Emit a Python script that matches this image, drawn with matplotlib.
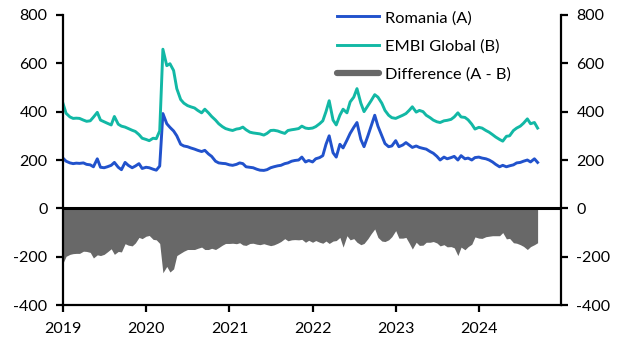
import matplotlib
matplotlib.use('Agg')
import matplotlib.pyplot as plt
import matplotlib.dates as mdates
import numpy as np
import pandas as pd

# semi-monthly observations (1st and 15th), Jan 2019 - Sep 2024, bp
dates = pd.date_range('2019-01-01', '2024-09-15', freq='SMS')

romania = [
    # 2019
    208, 195, 188, 185, 187, 186, 188, 182, 180, 172, 205, 170,
    168, 172, 178, 190, 170, 160, 190, 178, 168, 175, 185, 165,
    # 2020
    170, 168, 162, 158, 175, 392, 350, 335, 320, 300, 265, 258,
    255, 250, 245, 240, 235, 240, 225, 215, 195, 188, 186, 185,
    # 2021
    180, 178, 182, 188, 185, 172, 170, 168, 162, 158, 157, 160,
    168, 172, 176, 178, 185, 188, 195, 198, 200, 212, 192, 198,
    # 2022
    192, 205, 210, 218, 265, 300, 230, 212, 265, 250, 282, 310,
    335, 355, 285, 255, 300, 340, 385, 340, 300, 268, 255, 258,
    # 2023
    280, 255, 262, 272, 262, 252, 258, 252, 248, 245, 235, 228,
    215, 200, 212, 205, 210, 215, 200, 218, 205, 208, 200, 210,
    # 2024
    212, 208, 205, 200, 192, 182, 172, 178, 172, 176, 180, 188,
    190, 195, 200, 192, 205, 190,
]

embi = [
    # 2019
    435, 393, 378, 372, 373, 372, 365, 360, 362, 377, 397, 365,
    358, 352, 345, 380, 348, 340, 336, 330, 323, 318, 305, 290,
    # 2020
    285, 280, 290, 288, 320, 658, 590, 598, 570, 495, 450, 435,
    425, 420, 415, 405, 395, 410, 395, 380, 365, 350, 338, 330,
    # 2021
    325, 322, 328, 330, 336, 325, 315, 312, 310, 308, 303, 310,
    322, 323, 320, 315, 310, 322, 325, 327, 330, 340, 332, 330,
    # 2022
    332, 338, 350, 362, 400, 445, 365, 345, 385, 410, 395, 440,
    460, 495, 435, 400, 425, 445, 470, 460, 435, 405, 385, 375,
    # 2023
    372, 378, 385, 392, 405, 420, 398, 405, 400, 385, 375, 365,
    358, 355, 362, 364, 368, 378, 395, 378, 376, 366, 348, 328,
    # 2024
    335, 332, 322, 315, 305, 295, 285, 278, 298, 300, 322, 332,
    340, 352, 370, 350, 355, 332,
]

yticks = [-400, -200, 0, 200, 400, 600, 800]
years = [2019, 2020, 2021, 2022, 2023, 2024]

df = pd.DataFrame({'romania': romania, 'embi': embi}, index=dates)
df['diff'] = df['romania'] - df['embi']

plt.rcParams['font.family'] = ['Lato', 'DejaVu Sans']
plt.rcParams['font.size'] = 11.5
plt.rcParams['axes.unicode_minus'] = False

fig = plt.figure(figsize=(6.29, 3.54), dpi=100)
ax = fig.add_axes([0.100, 0.138, 0.792, 0.820])

blue = '#2152CC'
teal = '#12B8A5'
grey = '#686868'

ax.fill_between(df.index, 0, df['diff'], color=grey, linewidth=0)
ax.plot(df.index, df['romania'], color=blue, lw=2.1, label='Romania (A)')
ax.plot(df.index, df['embi'], color=teal, lw=2.1, label='EMBI Global (B)')
ax.plot([], [], color=grey, lw=4.5, solid_capstyle='round', label='Difference (A - B)')
ax.axhline(0, color='black', lw=2.2, zorder=3)

ax.set_ylim(-400, 800)
ax.set_yticks(yticks)
ax.set_xlim(pd.Timestamp('2019-01-01'), pd.Timestamp('2024-12-27'))
ax.set_xticks([pd.Timestamp(f'{y}-01-01') for y in years])
ax.xaxis.set_major_formatter(mdates.DateFormatter('%Y'))

ax2 = ax.twinx()
ax2.set_ylim(-400, 800)
ax2.set_yticks(yticks)

for a in (ax, ax2):
    a.spines['top'].set_visible(False)
    for s in ('left', 'right', 'bottom'):
        a.spines[s].set_linewidth(1.6)
    a.tick_params(direction='out', length=5, width=1.6, labelsize=11.5, pad=6)
ax.spines['right'].set_visible(False)
ax2.spines['left'].set_visible(False)
ax2.spines['bottom'].set_visible(False)
ax.tick_params(axis='x', pad=7)

leg = ax.legend(loc='upper left', bbox_to_anchor=(0.52, 1.065), frameon=False,
                handlelength=2.6, handletextpad=0.35, labelspacing=0.85,
                fontsize=11.8)

fig.savefig('out.png', dpi=100)
